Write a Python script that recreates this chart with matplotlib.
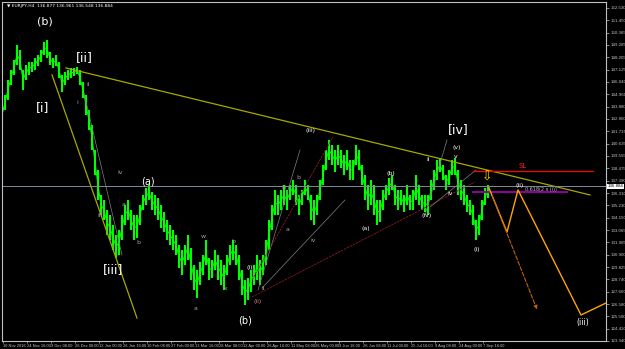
import numpy as np
import matplotlib
matplotlib.use("Agg")
import matplotlib.pyplot as plt

# EURJPY H4, one sample per ~8 bars (bar group high / low)
highs = [144.03, 144.90, 146.22, 147.09, 147.97, 149.29, 148.85, 147.09, 147.53, 147.80,
         147.80, 148.15, 148.41, 148.85, 149.55, 149.72, 148.67, 148.15, 148.41, 147.80,
         146.66, 146.92, 147.09, 147.27, 147.27, 147.36, 147.09, 146.04, 144.90, 143.59,
         142.27, 140.08, 138.33, 136.14, 135.70, 134.82, 134.38, 133.51, 132.63, 133.07,
         134.38, 135.26, 135.70, 134.82, 134.38, 134.38, 135.26, 136.14, 136.75, 137.01,
         136.40, 136.14, 135.87, 135.26, 134.65, 133.95, 133.51, 133.07, 132.63, 131.75,
         131.32, 131.75, 132.63, 131.49, 130.00, 129.56, 130.26, 130.88, 132.19, 130.61,
         130.44, 131.32, 130.88, 130.44, 130.00, 130.88, 131.75, 132.19, 131.75, 130.88,
         129.56, 128.69, 128.86, 129.56, 130.00, 130.88, 130.44, 130.88, 132.19, 133.95,
         135.26, 136.58, 136.14, 136.58, 137.01, 136.58, 137.01, 137.45, 137.01, 136.14,
         136.58, 137.45, 137.01, 136.14, 135.70, 136.14, 137.45, 138.77, 140.08, 140.96,
         140.52, 140.08, 140.52, 140.08, 139.64, 140.08, 139.21, 139.21, 140.52, 140.08,
         138.77, 137.89, 137.01, 137.45, 137.01, 135.70, 135.70, 136.58, 137.01, 137.63,
         137.89, 137.01, 136.58, 136.58, 136.14, 137.01, 136.14, 136.58, 137.89, 137.01,
         136.14, 136.14, 136.14, 137.45, 138.33, 139.21, 139.38, 138.77, 137.89, 138.33,
         139.21, 139.38, 138.33, 137.45, 137.01, 136.14, 135.70, 135.26, 133.95, 134.38,
         135.70, 136.75, 137.01]
lows = [142.27, 143.59, 144.47, 145.78, 146.66, 147.53, 147.09, 145.34, 146.22, 146.66,
        146.92, 147.09, 147.45, 147.80, 148.41, 148.15, 147.53, 147.27, 147.45, 146.39,
        145.17, 145.78, 146.22, 146.39, 146.57, 146.74, 145.78, 144.64, 143.15, 141.83,
        140.08, 137.89, 135.70, 134.38, 133.95, 132.63, 132.19, 131.32, 130.61, 130.88,
        132.19, 133.51, 133.95, 133.07, 132.19, 132.37, 133.51, 134.82, 135.26, 135.70,
        134.82, 134.38, 133.95, 133.25, 132.89, 132.19, 131.75, 131.32, 130.88, 129.74,
        129.13, 130.00, 130.44, 128.69, 127.81, 127.11, 128.25, 129.13, 130.00, 128.69,
        128.86, 129.56, 128.69, 128.25, 127.81, 129.13, 130.00, 130.44, 130.00, 128.69,
        127.37, 126.50, 126.93, 127.63, 128.25, 128.69, 128.25, 129.13, 130.00, 131.32,
        133.07, 134.38, 134.38, 134.82, 135.26, 134.82, 135.70, 136.14, 135.26, 134.38,
        135.26, 136.14, 135.70, 133.95, 133.51, 134.38, 135.70, 137.01, 138.33, 139.21,
        138.77, 138.15, 138.77, 138.50, 137.89, 138.33, 137.45, 137.45, 138.77, 138.33,
        137.01, 135.70, 134.82, 135.26, 134.38, 133.51, 133.77, 134.82, 135.70, 136.14,
        136.58, 135.26, 134.82, 135.26, 134.65, 135.26, 134.82, 134.82, 135.70, 135.26,
        134.82, 134.65, 134.38, 135.70, 136.58, 137.45, 138.15, 137.45, 136.58, 137.01,
        137.89, 137.89, 136.14, 135.70, 135.26, 134.65, 134.38, 133.51, 132.19, 132.63,
        133.95, 135.26, 135.87]

price_labels = ["123.340", "124.420", "125.500", "126.580", "127.660", "128.740", "129.825",
                "130.900", "131.985", "133.065", "134.150", "135.230", "136.310", "137.390",
                "138.475", "139.555", "140.635", "141.715", "142.800", "143.880", "144.960",
                "146.040", "147.125", "148.205", "149.285", "150.365", "151.450", "152.530"]
date_labels = ["10 Nov 2016", "24 Nov 16:00", "9 Dec 08:00", "26 Dec 00:00", "12 Jan 00:00",
               "26 Jan 16:00", "10 Feb 08:00", "27 Feb 00:00", "13 Mar 16:00", "28 Mar 08:00",
               "12 Apr 00:00", "26 Apr 16:00", "11 May 08:00", "26 May 00:00", "9 Jun 16:00",
               "26 Jun 08:00", "11 Jul 00:00", "25 Jul 16:00", "9 Aug 08:00", "24 Aug 00:00",
               "7 Sep 16:00"]
last_price = 136.884

plt.rcParams["font.family"] = ["DejaVu Sans"]
tiny = {"family": "Liberation Sans", "size": 2.9}
ytiny = {"family": "Liberation Sans", "size": 3.2}

W, H = 625, 349
fig = plt.figure(figsize=(W / 100, H / 100), dpi=100, facecolor="black")
ax = fig.add_axes([2 / W, 8 / H, 604 / W, 339 / H], facecolor="black")

x = np.arange(len(highs))
hi = np.array(highs)
lo = np.array(lows)
ax.vlines(x, lo, hi, color="#00ff00", lw=1.5)
ax.plot(x, (hi + lo) / 2, color="#00ff00", lw=0.7)

ax.set_xlim(0, 201.33)
ax.set_ylim(123.35, 153.05)

# trend lines / channels
ax.plot([21.3, 196], [147.27, 136.14], color="#a8a800", lw=0.9)
ax.plot([16.67, 45], [146.66, 125.35], color="#a8a800", lw=0.9)
ax.plot([27.33, 40], [145.08, 130.88], color="#808080", lw=0.5)
ax.plot([85.33, 99.33], [127.81, 140.08], color="#808080", lw=0.5)
ax.plot([83.33, 110.33], [128.69, 141.22], color="#8b1a1a", lw=0.6, ls=(0, (3, 1)))
ax.plot([86.67, 114.33], [127.98, 135.70], color="#808080", lw=0.5)
ax.plot([83.33, 157.67], [127.2, 137.28], color="#8b1a1a", lw=0.6, ls=(0, (3, 1)))
ax.plot([141, 148.33], [134.38, 140.96], color="#808080", lw=0.5)
ax.plot([142.67, 158], [135.08, 138.33], color="#808080", lw=0.5)

ax.axhline(last_price, color="#7f8c99", lw=0.7)
ax.plot([157, 197], [138.24, 138.24], color="#ff0000", lw=0.9)
ax.plot([157, 188.33], [136.40, 136.40], color="#9000a0", lw=1.4)

# projection
ax.plot([162.33, 168.33, 172, 193, 201.33], [136.75, 132.89, 136.58, 125.62, 126.67],
        color="#ffa500", lw=1.0)
ax.annotate("", xy=(178.67, 125.88), xytext=(163, 136.31),
            arrowprops=dict(arrowstyle="-|>", color="#c06010", lw=0.8, ls="--",
                            mutation_scale=5))

white = "#ffffff"
grey = "#a0a0a0"
big = [("(b)", 14.33, 151.30, 8), ("[i]", 13.67, 143.76, 9), ("[ii]", 27.33, 148.15, 9),
       ("[iii]", 37, 129.56, 9), ("[iv]", 152, 141.83, 9), ("(a)", 48.67, 137.28, 7),
       ("(b)", 81, 125.18, 7), ("(iii)", 193.67, 124.92, 5.5)]
for t, xx, yy, fs in big:
    ax.text(xx, yy, t, color=white, fontsize=fs, ha="center", va="center")

small = [("i", 25, 144.20, grey), ("ii", 28.67, 145.78, grey), ("iii", 32.67, 134.38, grey),
         ("iv", 39.33, 138.07, grey), ("a", 40.67, 135.26, grey), ("b", 45.33, 131.93, grey),
         ("a", 64.67, 126.23, grey), ("w", 67, 132.54, grey), ("x", 74.67, 127.98, grey),
         ("b", 77, 132.02, grey), ("(i)", 82.67, 129.74, white), ("i", 85.5, 129.9, grey),
         ("(ii)", 85.33, 126.76, "#e08080"), ("ii", 87, 127.98, grey), ("iii", 94, 136.75, grey),
         ("a", 95.33, 133.07, grey), ("b", 98.67, 137.71, grey), ("iv", 103.67, 132.19, grey),
         ("(iii)", 102.67, 141.75, white), ("(a)", 121.33, 133.24, white),
         ("(b)", 129.67, 137.98, white), ("ii", 142, 139.21, white), ("(iv)", 141.67, 134.38, white),
         ("iv", 149.33, 136.31, white), ("v", 151.33, 139.47, white), ("(v)", 151.67, 140.26, white),
         ("(i)", 158.33, 131.40, white), ("(ii)", 172.67, 137.01, white)]
for t, xx, yy, c in small:
    ax.text(xx, yy, t, color=c, fontsize=4.5, ha="center", va="center")

ax.text(179.67, 136.66, "0.618(2 x (i))", color="#c0c0c0", fontsize=3.5, ha="center", va="center")
ax.text(173.67, 138.68, "SL", color="#ff2020", fontsize=5, ha="center", va="center")
ax.text(161.67, 137.7, "\u21e9", color="#ffd700", fontsize=9, ha="center", va="center")

ax.text(0.008, 0.995, "\u25bc EURJPY,H4  136.877 136.961 136.548 136.884", color=white,
        fontsize=3.2, transform=ax.transAxes, ha="left", va="top")

# axes styling
for s in ax.spines.values():
    s.set_color("#c0c0c0")
    s.set_linewidth(0.8)
ax.yaxis.tick_right()
ax.set_yticks([float(v) for v in price_labels])
ax.set_yticklabels(price_labels, fontdict=ytiny)
ax.tick_params(axis="y", colors="#c0c0c0", length=2, width=0.5, pad=1)
ax.set_xticks([(1 + 24 * k) / 3 for k in range(len(date_labels))])
ax.set_xticklabels(date_labels, ha="left", fontdict=tiny)
ax.tick_params(axis="x", colors="#c0c0c0", length=1.5, width=0.5, pad=0.5)

ax.text(1.003, last_price, "136.884", transform=ax.get_yaxis_transform(), fontdict=ytiny,
        color="black", va="center", ha="left",
        bbox=dict(boxstyle="square,pad=0.15", fc="white", ec="none"))

fig.savefig("out.png", dpi=100, facecolor="black")
